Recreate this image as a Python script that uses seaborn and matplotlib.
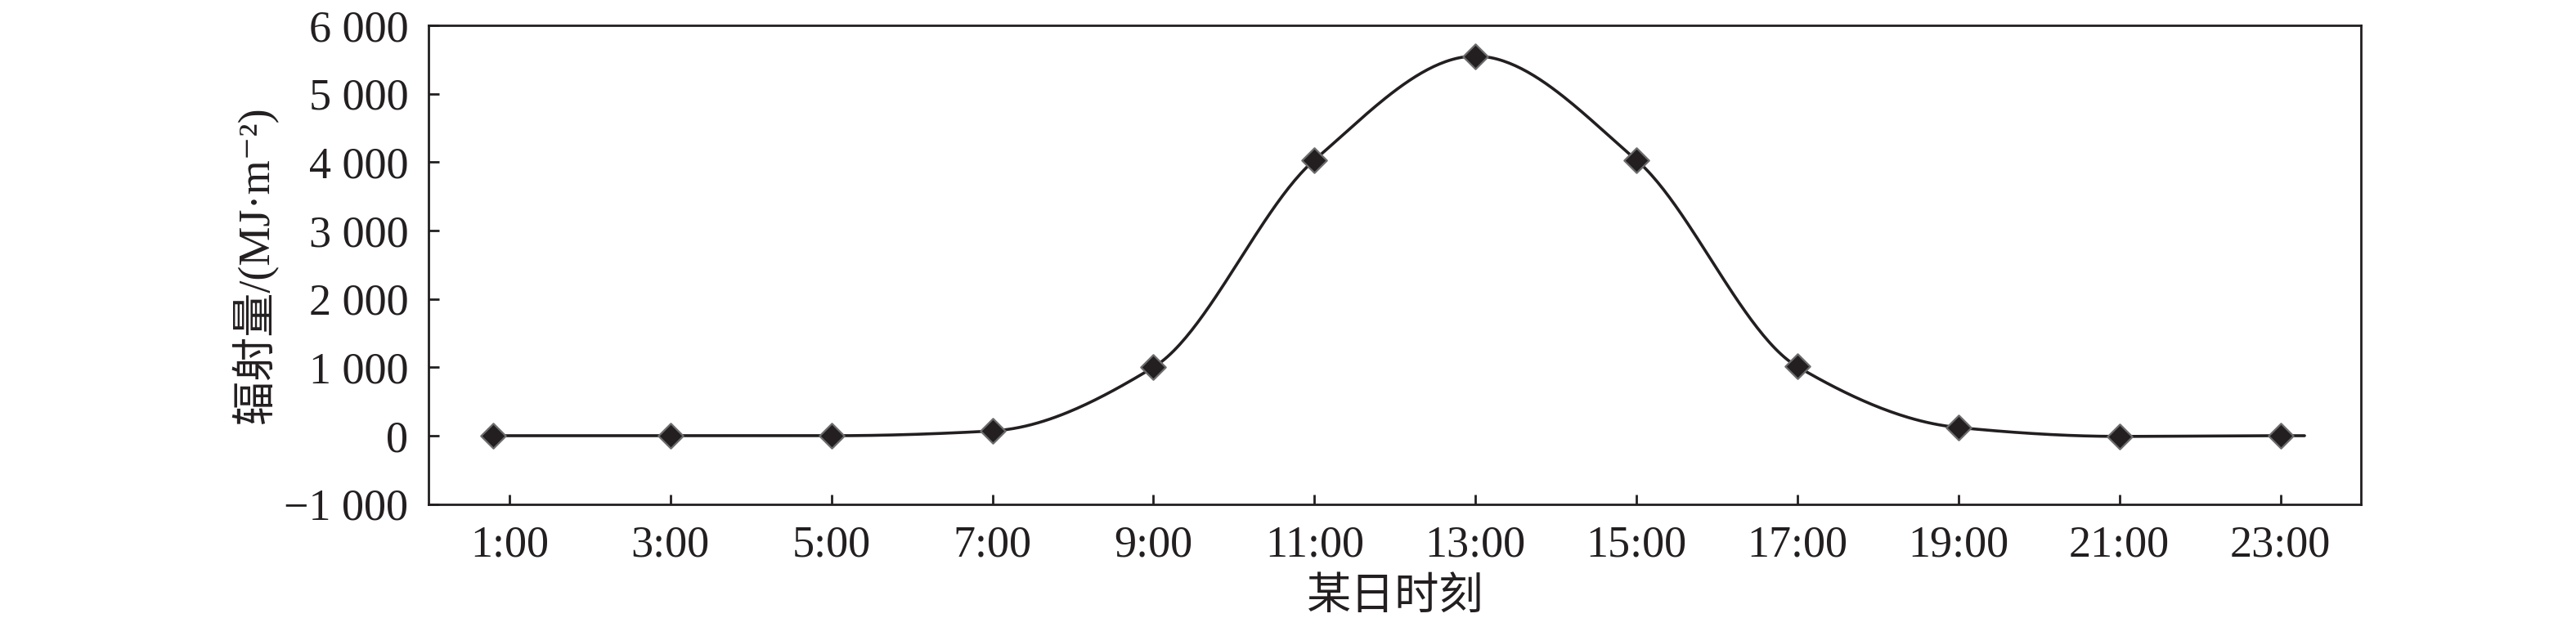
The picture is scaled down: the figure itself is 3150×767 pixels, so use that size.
"""
辐射量日变化曲线 (某日各时刻)
"""
import numpy as np
import pandas as pd
import matplotlib
matplotlib.use("Agg")
import matplotlib.pyplot as plt
import seaborn as sns

# Données
hours = [0.8, 3, 5, 7, 9, 11, 13, 15, 17, 19, 21, 23]
radiation = [0, 0, 0, 70, 1000, 4030, 5550, 4030, 1010, 120, -10, 0]
line_end_hour = 23.3   # la courbe dépasse un peu le dernier point
line_end_value = 0

xtick_pos = [1, 3, 5, 7, 9, 11, 13, 15, 17, 19, 21, 23]
xtick_labels = ["1:00", "3:00", "5:00", "7:00", "9:00", "11:00", "13:00",
                "15:00", "17:00", "19:00", "21:00", "23:00"]
ytick_pos = [-1000, 0, 1000, 2000, 3000, 4000, 5000, 6000]
ytick_labels = ["\u22121 000", "0", "1 000", "2 000", "3 000", "4 000",
                "5 000", "6 000"]


def pchip(x, y, xs):
    """Interpolation cubique monotone (type PCHIP)."""
    x = np.asarray(x, float)
    y = np.asarray(y, float)
    h = np.diff(x)
    d = np.diff(y) / h
    n = len(x)
    m = np.zeros(n)
    for k in range(1, n - 1):
        if d[k - 1] * d[k] > 0:
            w1 = 2 * h[k] + h[k - 1]
            w2 = h[k] + 2 * h[k - 1]
            m[k] = (w1 + w2) / (w1 / d[k - 1] + w2 / d[k])
    m[0] = d[0]
    m[-1] = d[-1]
    idx = np.clip(np.searchsorted(x, xs) - 1, 0, n - 2)
    t = (xs - x[idx]) / h[idx]
    h00 = 2 * t**3 - 3 * t**2 + 1
    h10 = t**3 - 2 * t**2 + t
    h01 = -2 * t**3 + 3 * t**2
    h11 = t**3 - t**2
    return (h00 * y[idx] + h10 * h[idx] * m[idx]
            + h01 * y[idx + 1] + h11 * h[idx] * m[idx + 1])


curve_x = hours + [line_end_hour]
curve_y = radiation + [line_end_value]
xs = np.linspace(curve_x[0], curve_x[-1], 600)
curve_df = pd.DataFrame({"hour": xs, "value": pchip(curve_x, curve_y, xs)})
points_df = pd.DataFrame({"hour": hours, "value": radiation})

# Style
sns.set_style("ticks")
plt.rcParams['font.family'] = ['Liberation Serif', 'Noto Sans CJK SC', 'DejaVu Sans']
plt.rcParams['axes.unicode_minus'] = True

ink = "#231f20"

fig, ax = plt.subplots(figsize=(15.75, 3.835), dpi=200)
fig.subplots_adjust(left=0.1665, right=0.9165, top=0.9596, bottom=0.196)

sns.lineplot(data=curve_df, x="hour", y="value", ax=ax, color=ink,
             linewidth=1.3, sort=False)
sns.scatterplot(data=points_df, x="hour", y="value", ax=ax, marker="D",
                s=60, color=ink, edgecolor="#6d6d6d", linewidth=0.8,
                zorder=3)

ax.set_xlim(0, 24)
ax.set_ylim(-1000, 6000)
ax.set_xticks(xtick_pos)
ax.set_xticklabels(xtick_labels)
ax.set_yticks(ytick_pos)
ax.set_yticklabels(ytick_labels)

ax.tick_params(axis="both", direction="in", length=4.5, width=1.0,
               color=ink, labelsize=19.5, labelcolor=ink, pad=9)
ax.tick_params(axis="x", top=False)
ax.tick_params(axis="y", right=False)
for sp in ax.spines.values():
    sp.set_visible(True)
    sp.set_linewidth(1.0)
    sp.set_color(ink)

ax.set_xlabel("某日时刻", fontsize=19.5, color=ink, labelpad=5)
ax.set_ylabel("辐射量/(MJ·m\u207b\u00b2)", fontsize=19.5, color=ink)
ax.yaxis.set_label_coords(-0.078, 0.5)
ax.grid(False)

plt.savefig("out.png", dpi=200)
print("[✓] out.png")
